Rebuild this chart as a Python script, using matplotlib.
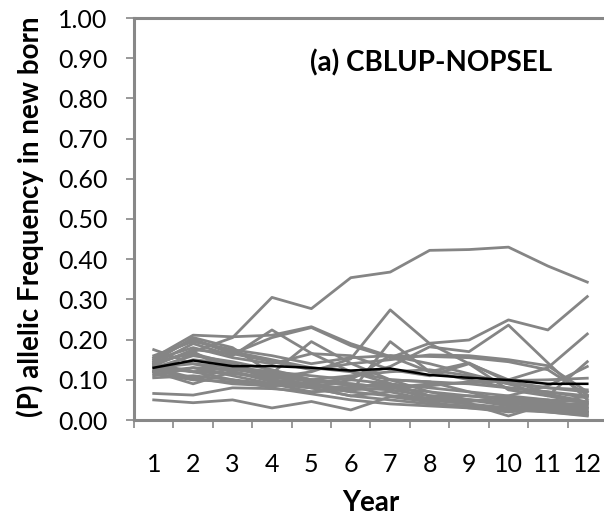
import numpy as np
import matplotlib
matplotlib.use('Agg')
import matplotlib.pyplot as plt
from matplotlib.ticker import FixedLocator

plt.rcParams['font.family'] = ['Lato', 'DejaVu Sans']

# Data
years = np.arange(1, 13)
year_labels = [str(y) for y in years]

# allelic frequency per replicate (gray lines)
rep01 = [0.140, 0.170, 0.205, 0.305, 0.277, 0.354, 0.368, 0.422, 0.424, 0.430, 0.383, 0.343]
rep02 = [0.150, 0.200, 0.165, 0.205, 0.230, 0.185, 0.155, 0.191, 0.199, 0.249, 0.224, 0.307]
rep03 = [0.120, 0.165, 0.130, 0.105, 0.120, 0.152, 0.274, 0.190, 0.140, 0.100, 0.065, 0.045]
rep04 = [0.130, 0.140, 0.120, 0.100, 0.090, 0.105, 0.133, 0.182, 0.170, 0.236, 0.142, 0.050]
rep05 = [0.110, 0.130, 0.125, 0.115, 0.100, 0.090, 0.080, 0.085, 0.095, 0.100, 0.130, 0.214]
rep06 = [0.066, 0.062, 0.080, 0.078, 0.070, 0.075, 0.080, 0.090, 0.092, 0.098, 0.100, 0.104]
rep07 = [0.050, 0.043, 0.050, 0.030, 0.046, 0.025, 0.058, 0.045, 0.030, 0.020, 0.028, 0.020]
rep08 = [0.155, 0.211, 0.207, 0.211, 0.232, 0.190, 0.158, 0.120, 0.100, 0.080, 0.070, 0.060]
rep09 = [0.140, 0.190, 0.160, 0.224, 0.166, 0.120, 0.090, 0.060, 0.050, 0.040, 0.035, 0.030]
rep10 = [0.145, 0.205, 0.180, 0.116, 0.195, 0.141, 0.100, 0.070, 0.050, 0.045, 0.040, 0.040]
rep11 = [0.125, 0.100, 0.130, 0.110, 0.085, 0.070, 0.195, 0.120, 0.142, 0.095, 0.080, 0.070]
rep12 = [0.160, 0.195, 0.175, 0.160, 0.140, 0.155, 0.160, 0.158, 0.155, 0.145, 0.125, 0.062]
rep13 = [0.135, 0.175, 0.165, 0.145, 0.125, 0.140, 0.150, 0.162, 0.160, 0.150, 0.135, 0.070]
rep14 = [0.120, 0.090, 0.120, 0.095, 0.085, 0.080, 0.075, 0.060, 0.050, 0.035, 0.030, 0.025]
rep15 = [0.175, 0.140, 0.130, 0.120, 0.110, 0.100, 0.090, 0.080, 0.070, 0.060, 0.050, 0.045]
rep16 = [0.105, 0.110, 0.100, 0.090, 0.080, 0.060, 0.050, 0.040, 0.035, 0.030, 0.025, 0.015]
rep17 = [0.130, 0.160, 0.145, 0.125, 0.100, 0.085, 0.085, 0.050, 0.040, 0.010, 0.040, 0.060]
rep18 = [0.140, 0.120, 0.100, 0.080, 0.065, 0.050, 0.040, 0.035, 0.030, 0.025, 0.020, 0.012]
rep19 = [0.150, 0.180, 0.155, 0.140, 0.165, 0.160, 0.125, 0.110, 0.140, 0.075, 0.060, 0.145]
rep20 = [0.120, 0.150, 0.140, 0.095, 0.090, 0.070, 0.060, 0.050, 0.045, 0.060, 0.085, 0.133]
rep21 = [0.130, 0.105, 0.090, 0.085, 0.090, 0.075, 0.100, 0.095, 0.090, 0.080, 0.070, 0.055]
rep22 = [0.115, 0.100, 0.095, 0.090, 0.070, 0.080, 0.090, 0.060, 0.060, 0.055, 0.050, 0.030]
rep23 = [0.140, 0.170, 0.120, 0.100, 0.080, 0.060, 0.070, 0.050, 0.040, 0.030, 0.020, 0.010]
rep24 = [0.155, 0.200, 0.170, 0.150, 0.130, 0.120, 0.100, 0.095, 0.070, 0.045, 0.040, 0.035]
rep25 = [0.130, 0.120, 0.115, 0.105, 0.100, 0.110, 0.120, 0.125, 0.110, 0.090, 0.080, 0.075]
rep26 = [0.145, 0.165, 0.140, 0.110, 0.095, 0.090, 0.080, 0.070, 0.060, 0.050, 0.045, 0.020]
rep27 = [0.120, 0.130, 0.110, 0.090, 0.080, 0.100, 0.160, 0.140, 0.115, 0.090, 0.060, 0.040]
rep28 = [0.135, 0.120, 0.130, 0.120, 0.100, 0.085, 0.060, 0.055, 0.050, 0.045, 0.035, 0.020]

replicates = [rep01, rep02, rep03, rep04, rep05, rep06, rep07, rep08, rep09, rep10,
              rep11, rep12, rep13, rep14, rep15, rep16, rep17, rep18, rep19, rep20,
              rep21, rep22, rep23, rep24, rep25, rep26, rep27, rep28]

# average over replicates (black line)
mean_freq = [0.130, 0.148, 0.134, 0.134, 0.130, 0.123, 0.128, 0.112, 0.105, 0.0995, 0.090, 0.090]

# Plot
fig = plt.figure(figsize=(6.04, 5.2), dpi=100)
ax = fig.add_axes([134/604, 100/520, 473/604, 402/520])

for rep in replicates:
    ax.plot(years, rep, color='#858585', lw=2.0)
ax.plot(years, mean_freq, color='black', lw=1.8)

ax.set_xlim(0.5, 12.5)
ax.set_ylim(0, 1.0)

ax.set_yticks(np.arange(0, 1.01, 0.1))
ax.set_yticklabels(['%.2f' % v for v in np.arange(0, 1.01, 0.1)])
ax.set_xticks(years)
ax.set_xticklabels(year_labels)
ax.xaxis.set_minor_locator(FixedLocator(np.arange(0.5, 12.6, 1.0)))

ax.tick_params(axis='x', which='major', length=0, pad=24, labelsize=18)
ax.tick_params(axis='x', which='minor', length=6, width=1.2, color='#888888', direction='out')
ax.tick_params(axis='y', which='major', length=6, width=1.2, color='#888888', pad=13, labelsize=18)

for side in ['left', 'bottom', 'top', 'right']:
    ax.spines[side].set_color('#888888')
    ax.spines[side].set_linewidth(2.2)

ax.text(0.628, 0.888, '(a) CBLUP-NOPSEL', transform=ax.transAxes,
        ha='center', va='center', fontsize=20, fontweight='bold')

ax.set_xlabel('Year', fontsize=20, fontweight='bold', labelpad=10)
fig.text(30/604, 1 - 217/520, '(P) allelic Frequency in new born', rotation=90,
         ha='center', va='center', fontsize=20, fontweight='bold')

fig.savefig('out.png', dpi=100)
